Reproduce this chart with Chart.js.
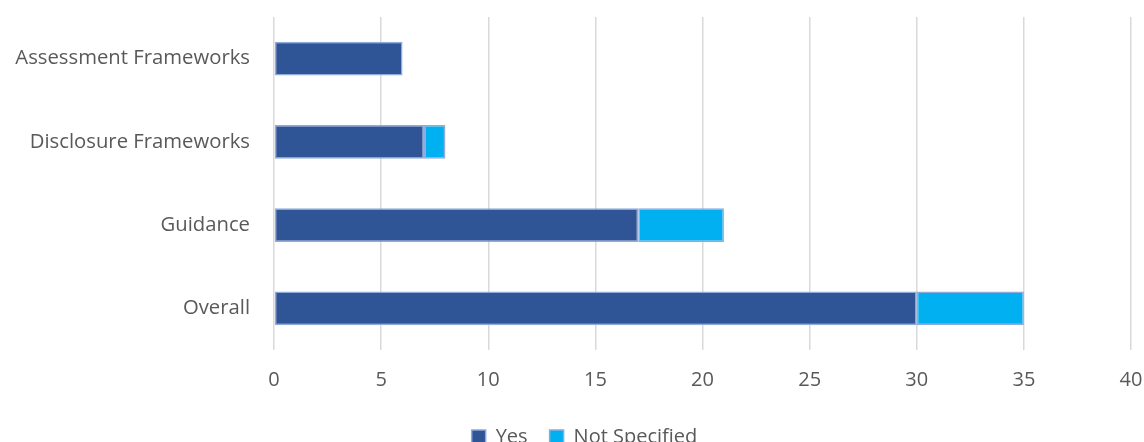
<!DOCTYPE html>
<html>
<head>
<meta charset="utf-8">
<script src="https://cdn.jsdelivr.net/npm/chart.js@4.4.1/dist/chart.umd.min.js"></script>
<style>
html,body{margin:0;padding:0;background:#fff;overflow:hidden;}
#wrap{width:1144px;height:457px;}
</style>
</head>
<body>
<div id="wrap"><canvas id="c" width="1144" height="457"></canvas></div>
<script>
const categories = ["Assessment Frameworks", "Disclosure Frameworks", "Guidance", "Overall"];
const yesValues = [6, 7, 17, 30];
const notSpecifiedValues = [0, 1, 4, 5];
const seriesNames = ["Yes", "Not Specified"];
const xTicks = [0, 5, 10, 15, 20, 25, 30, 35, 40];

const FONT = "'Open Sans', sans-serif";
const TXT = '#595959';

const legendShift = {
  id: 'legendShift',
  afterLayout(chart) {
    if (chart.legend) { chart.legend.left += 19; chart.legend.right += 19; }
  }
};

new Chart(document.getElementById('c'), {
  type: 'bar',
  data: {
    labels: categories,
    datasets: [
      { label: seriesNames[0], data: yesValues, backgroundColor: '#2F5597', borderColor: '#8FAADC', borderWidth: 1.5, borderSkipped: false },
      { label: seriesNames[1], data: notSpecifiedValues, backgroundColor: '#00B0F0', borderColor: '#8FAADC', borderWidth: 1.5, borderSkipped: false }
    ]
  },
  plugins: [legendShift],
  options: {
    indexAxis: 'y',
    responsive: false,
    animation: false,
    devicePixelRatio: 1,
    layout: { padding: { top: 17, right: 13, left: 0, bottom: 0 } },
    datasets: { bar: { categoryPercentage: 0.8, barPercentage: 0.51 } },
    scales: {
      x: {
        stacked: true,
        min: 0, max: 40,
        afterBuildTicks: s => { s.ticks = xTicks.map(v => ({ value: v })); },
        grid: { color: '#d9d9d9', lineWidth: 1.5, drawTicks: true, tickLength: 18, tickColor: 'rgba(0,0,0,0)' },
        border: { display: false },
        ticks: { color: TXT, font: { family: FONT, size: 20 }, padding: 0 },
        afterFit: s => { s.height = 55; }
      },
      y: {
        stacked: true,
        grid: { display: false, drawTicks: true, tickLength: 24 },
        border: { display: false },
        ticks: { color: TXT, font: { family: FONT, size: 20.3 }, padding: 0 },
        afterFit: s => { s.width = 274; }
      }
    },
    plugins: {
      legend: {
        position: 'bottom',
        labels: { color: TXT, font: { family: FONT, size: 20 }, boxWidth: 14, boxHeight: 14, padding: 22 }
      },
      tooltip: { enabled: false }
    }
  }
});
</script>
</body>
</html>
